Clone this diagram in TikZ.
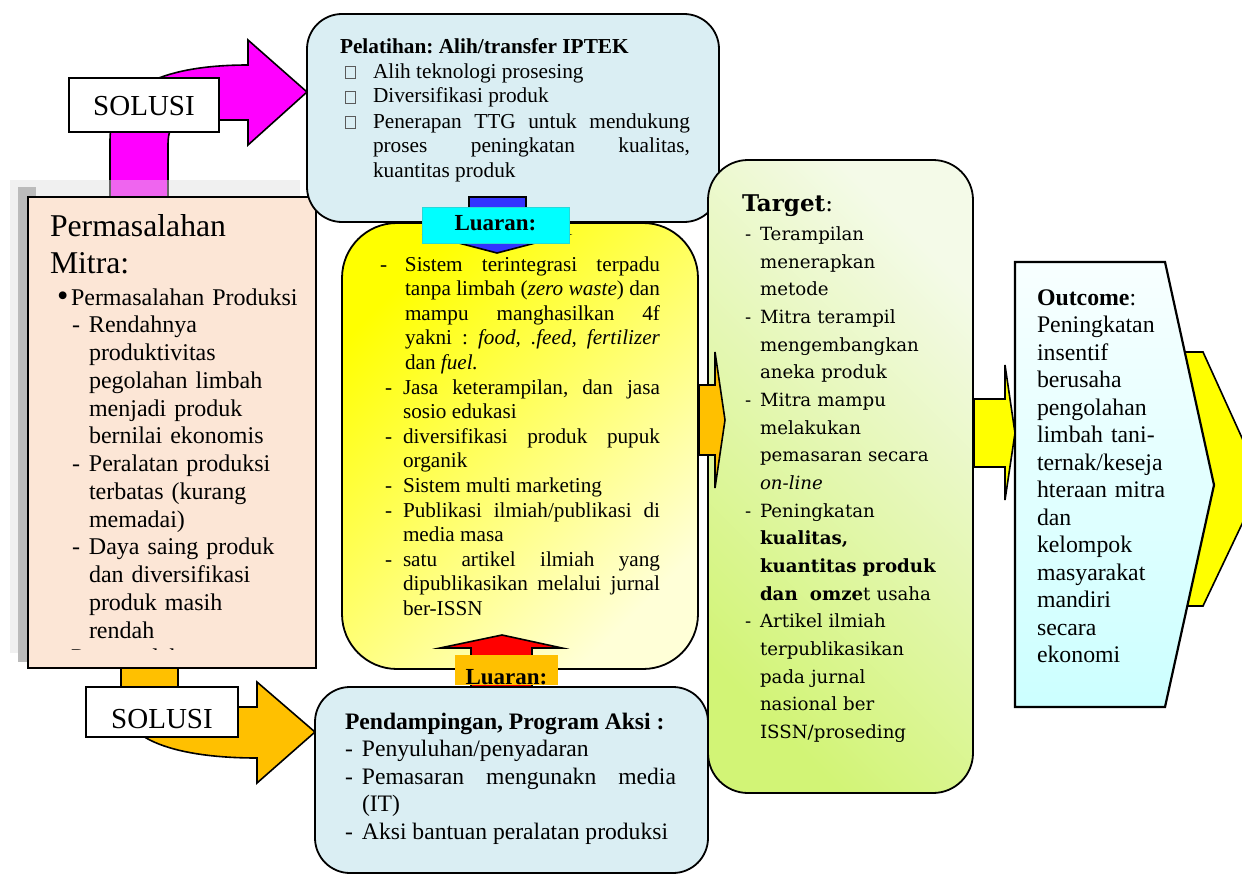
\documentclass[tikz,border=0pt]{standalone}
\usepackage{fontspec}
\setmainfont{Liberation Serif}
\newfontfamily\tgtfont{DejaVu Serif}
\definecolor{magen}{RGB}{255,0,255}
\definecolor{orng}{RGB}{255,192,0}
\definecolor{bluearr}{RGB}{51,51,255}
\definecolor{cyanl}{RGB}{0,255,255}
\definecolor{lblue}{RGB}{218,238,243}
\definecolor{peach}{RGB}{252,230,214}
\definecolor{yel}{RGB}{255,255,0}
\definecolor{yelend}{RGB}{255,255,215}
\definecolor{tgtA}{RGB}{244,250,232}
\definecolor{tgtB}{RGB}{210,244,118}
\definecolor{outA}{RGB}{248,255,255}
\definecolor{outB}{RGB}{204,255,255}
\definecolor{bandgray}{RGB}{222,222,222}
\definecolor{stripgray}{RGB}{187,187,187}
\definecolor{sqgray}{RGB}{90,90,90}
\newcommand\hitem[2]{\noindent\hangindent=#1\hangafter=1\makebox[#1][l]{#2}\ignorespaces}
\newcommand\sqbx{{\color{sqgray}\setlength\fboxsep{0pt}\setlength\fboxrule{0.6pt}\fbox{\rule{0pt}{11pt}\hspace{9.5pt}}}}
\newcommand\bigbul{\raisebox{-1pt}{\scalebox{1.35}{\textbullet}}}
\hbadness=10000
\hfuzz=6pt
\frenchspacing
\begin{document}
\begin{tikzpicture}[x=1pt,y=-1pt,
  boxline/.style={draw=black,line width=1.8pt},
  arrline/.style={draw=black,line width=1.6pt},
  txt/.style={anchor=base west,inner sep=0pt,outer sep=0pt,execute at begin node=\frenchspacing}]
\useasboundingbox (0,0) rectangle (1242,875);
\clip (0,0) rectangle (1242,875);

% magenta SOLUSI arrow (top)
\path[arrline,fill=magen] (110,197) -- (110,140) .. controls (110,85) and (170,65) .. (248,65)
  -- (248,40) -- (307,92) -- (248,145) -- (248,120) -- (195,120)
  .. controls (175,120) and (168,125) .. (168,145) -- (168,197) -- cycle;

% shadow of left box
\fill[bandgray,opacity=0.46] (10,180) rectangle (300,653);
\fill[stripgray] (18,187) rectangle (36,662);

% left box
\draw[boxline,fill=peach] (28,197) rectangle (316,668);
\node[txt,text width=260pt,align=left,font=\fontsize{31.7}{36.5}\selectfont] (ltitle) at (50,236.7) {Permasalahan\newline Mitra:};
\begin{scope}
\clip (30,199) rectangle (314,649.5);
\node[txt,text width=250pt,align=left,font=\fontsize{24}{27.75}\selectfont] (litems) at (57,305) {%
\hitem{14pt}{\bigbul}Permasalahan Produksi\par
\hitem{32pt}{\hspace{15pt}-}Rendahnya\newline produktivitas\newline pegolahan limbah\newline menjadi produk\newline bernilai ekonomis\par
\hitem{32pt}{\hspace{15pt}-}Peralatan produksi\newline terbatas (kurang\newline memadai)\par
\hitem{32pt}{\hspace{15pt}-}Daya saing produk\newline dan diversifikasi\newline produk masih\newline rendah\par
\hitem{14pt}{\bigbul}Permasalahan\par};
\end{scope}

% SOLUSI top label
\node[draw=black,line width=1.4pt,fill=white,minimum width=150pt,minimum height=54pt,inner sep=0pt,
  text height=20pt,text depth=0pt,font=\fontsize{29}{33}\selectfont] (sol1) at (144,105) {SOLUSI};

% top box
\draw[boxline,fill=lblue,rounded corners=35pt] (307,14) rectangle (719,222);
\node[txt,text width=350pt,align=justify,font=\fontsize{21.3}{25}\selectfont] (ttxt) at (340,53) {%
\textbf{Pelatihan: Alih/transfer IPTEK}\par
\hitem{33pt}{\hspace{5pt}\sqbx}Alih teknologi prosesing\par
\hitem{33pt}{\hspace{5pt}\sqbx}Diversifikasi produk\par
\hitem{33pt}{\hspace{5pt}\sqbx}Penerapan TTG untuk mendukung\linebreak proses peningkatan kualitas,\linebreak kuantitas produk\par};

% middle box
\path[boxline,rounded corners=55pt,top color=yel,bottom color=yelend,shading angle=45] (342,223) rectangle (698,669);
\node[txt,text width=280pt,align=justify,font=\fontsize{21.2}{24.6}\selectfont] (mtxt) at (380,271) {%
\hitem{25pt}{-}Sistem terintegrasi terpadu\linebreak tanpa limbah (\textit{zero waste}) dan\linebreak mampu manghasilkan 4f\linebreak yakni : \textit{food, .feed, fertilizer}\linebreak dan \textit{fuel.}\par
\hitem{23pt}{\hspace{5pt}-}Jasa keterampilan, dan jasa\linebreak sosio edukasi\par
\hitem{23pt}{\hspace{5pt}-}diversifikasi produk pupuk\linebreak organik\par
\hitem{23pt}{\hspace{5pt}-}Sistem multi marketing\par
\hitem{23pt}{\hspace{5pt}-}Publikasi ilmiah/publikasi di\linebreak media masa\par
\hitem{23pt}{\hspace{5pt}-}satu artikel ilmiah yang\linebreak dipublikasikan melalui jurnal\linebreak ber-ISSN\par};

% blue arrow down + label
\path[arrline,fill=bluearr] (469,197) -- (526,197) -- (526,235) -- (566,235) -- (497,253) -- (428,235) -- (469,235) -- cycle;
\node[fill=cyanl,draw=cyanl!70!gray,line width=0.4pt,minimum width=147pt,minimum height=36pt,inner sep=0pt,
  text height=16pt,text depth=6pt,font=\bfseries\fontsize{23}{26}\selectfont] (lu1) at (495.5,225) {Luaran:};

% target box
\path[boxline,rounded corners=40pt,top color=tgtA,bottom color=tgtB,shading angle=-45] (708,160) rectangle (973,793);
\node[txt,font=\tgtfont\bfseries\fontsize{23}{27}\selectfont] (tgtitle) at (742,211.5) {Target\mdseries:};
\node[txt,text width=225pt,align=left,font=\tgtfont\fontsize{18.2}{27.67}\selectfont] (tgtxt) at (745,240.5) {%
\hitem{15pt}{-}Terampilan\newline menerapkan\newline metode\par
\hitem{15pt}{-}Mitra terampil\newline mengembangkan\newline aneka produk\par
\hitem{15pt}{-}Mitra mampu\newline melakukan\newline pemasaran secara\newline \textit{on-line}\par
\hitem{15pt}{-}Peningkatan\newline \textbf{kualitas,}\newline \textbf{kuantitas produk}\newline \textbf{dan\ \ omze}t usaha\par
\hitem{15pt}{-}Artikel ilmiah\newline terpublikasikan\newline pada jurnal\newline nasional ber\newline ISSN/proseding\par};

% orange arrow middle -> target
\path[arrline,fill=orng] (699,385) -- (715,385) -- (715,352) -- (725,420) -- (715,488) -- (715,455) -- (699,455) -- cycle;

% big yellow chevron, outcome, yellow arrow
\path[arrline,fill=yel] (1160,352) -- (1203,352) -- (1262,482) -- (1203,606) -- (1160,606) -- cycle;
\path[draw=black,line width=2.2pt,top color=outA,bottom color=outB] (1015,262) -- (1165,262) -- (1214,485) -- (1165,707) -- (1015,707) -- cycle;
\node[txt,text width=150pt,align=left,font=\fontsize{23.8}{27.5}\selectfont] (octxt) at (1037,305) {%
\textbf{Outcome}:\newline Peningkatan\newline insentif\newline berusaha\newline pengolahan\newline limbah tani-\newline ternak/keseja\newline hteraan mitra\newline dan\newline kelompok\newline masyarakat\newline mandiri\newline secara\newline ekonomi};
\path[arrline,fill=yel] (974,399) -- (1005,399) -- (1005,365) -- (1015,433) -- (1005,500) -- (1005,467) -- (974,467) -- cycle;

% orange SOLUSI arrow (bottom)
\path[arrline,fill=orng] (121,668) -- (121,700) .. controls (121,745) and (190,758) .. (257,758)
  -- (257,783) -- (315,732) -- (257,682) -- (257,707) -- (192,707)
  .. controls (182,707) and (178,702) .. (178,692) -- (178,668) -- cycle;
\node[draw=black,line width=1.4pt,fill=white,minimum width=152pt,minimum height=50pt,inner sep=0pt,
  text height=32pt,text depth=0pt,font=\fontsize{29}{33}\selectfont] (sol2) at (162,712) {SOLUSI};

% red arrow up + label
\path[arrline,fill=red] (471,687) -- (471,648) -- (440,648) -- (502,635) -- (562,648) -- (532,648) -- (532,687) -- cycle;
\begin{scope}
\clip (455,655) rectangle (558,685);
\node[fill=orng,minimum width=103pt,minimum height=30pt,inner sep=0pt,
  text height=28pt,text depth=0pt,font=\bfseries\fontsize{23}{26}\selectfont] (lu2) at (506.5,670) {Luaran:};
\end{scope}

% bottom box
\draw[boxline,fill=lblue,rounded corners=35pt] (315,687) rectangle (708,873);
\node[txt,text width=331pt,align=justify,font=\fontsize{23.6}{27.5}\selectfont] (btxt) at (345,729) {%
\textbf{Pendampingan, Program Aksi :}\par
\hitem{17pt}{-}Penyuluhan/penyadaran\par
\hitem{17pt}{-}Pemasaran mengunakn media\linebreak (IT)\par
\hitem{17pt}{-}Aksi bantuan peralatan produksi\par};
\end{tikzpicture}
\end{document}
